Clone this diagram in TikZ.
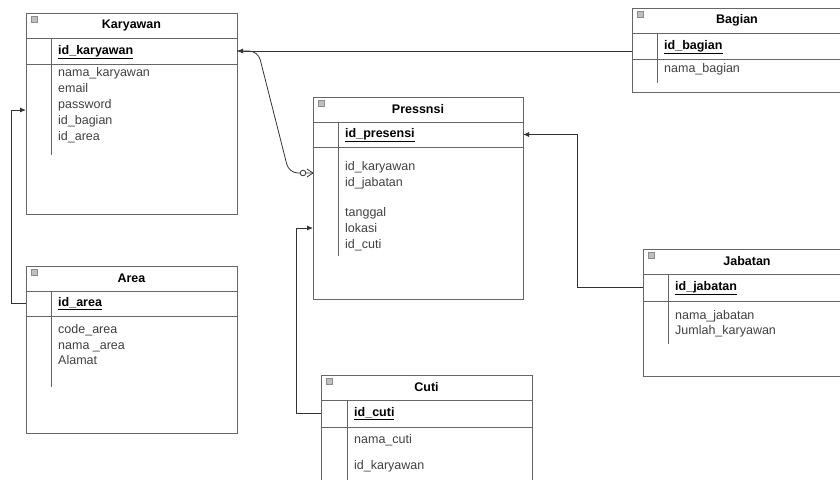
\documentclass[tikz,border=0pt]{standalone}
\usepackage{fontspec}
\setmainfont{Liberation Sans}
\usetikzlibrary{arrows.meta,positioning,calc}

\tikzset{
  tblbox/.style={draw=black!60, line width=0.9pt, inner sep=0pt, outer sep=0pt},
  tblhead/.style={tblbox, anchor=north west, minimum height=25pt, font=\fontsize{12.5}{14}\selectfont\bfseries},
  pkname/.style={anchor=west, inner sep=0pt, text height=9pt, text depth=3pt, font=\fontsize{12.5}{14}\selectfont\bfseries},
  field/.style={anchor=west, inner sep=0pt, text height=9pt, text depth=3pt, text=black!75, font=\fontsize{12.5}{14}\selectfont},
  inner/.style={draw=black!60, line width=0.9pt},
  icon/.style={draw=black!45, fill=black!25, line width=0.5pt},
  conn/.style={draw=black!80, line width=0.8pt},
  >={Latex[length=6pt,width=5pt]}
}

\begin{document}
\begin{tikzpicture}[x=1pt,y=-1pt]
    \useasboundingbox (0,0) rectangle (840,479);
    \clip (0,0) rectangle (840,479);

    % Karyawan table
    \node[tblhead, minimum width=211pt] (kary-title) at (26,13) {Karyawan};
    \node[tblbox, minimum width=211pt, minimum height=26pt, below=0pt of kary-title] (kary-pk) {};
    \node[tblbox, minimum width=211pt, minimum height=150pt, below=0pt of kary-pk] (kary-body) {};
    \draw[inner] ([xshift=25pt]kary-pk.north west) -- ++(0,117);
    \node[pkname, right=32pt of kary-pk.west] (kary-id) {\underline{id\_karyawan}};
    \foreach \f [count=\i] in {nama\_karyawan, email, password, id\_bagian, id\_area}
        \node[field] (kary-f\i) at (58,57+16*\i) {\f};

    % Area table
    \node[tblhead, minimum width=211pt] (area-title) at (26,266) {Area};
    \node[tblbox, minimum width=211pt, minimum height=25pt, below=0pt of area-title] (area-pk) {};
    \node[tblbox, minimum width=211pt, minimum height=117pt, below=0pt of area-pk] (area-body) {};
    \draw[inner] ([xshift=25pt]area-pk.north west) -- ++(0,96);
    \node[pkname, right=32pt of area-pk.west] (area-id) {\underline{id\_area}};
    \foreach \f [count=\i] in {code\_area, nama \_area, Alamat}
        \node[field] (area-f\i) at (58,315+15.5*\i) {\f};

    % Pressnsi table
    \node[tblhead, minimum width=210pt] (pres-title) at (313,97) {Pressnsi};
    \node[tblbox, minimum width=210pt, minimum height=25pt, below=0pt of pres-title] (pres-pk) {};
    \node[tblbox, minimum width=210pt, minimum height=152pt, below=0pt of pres-pk] (pres-body) {};
    \draw[inner] ([xshift=25pt]pres-pk.north west) -- ++(0,134);
    \node[pkname, right=32pt of pres-pk.west] (pres-id) {\underline{id\_presensi}};
    \foreach \f/\y [count=\i] in {id\_karyawan/167, id\_jabatan/183, tanggal/213, lokasi/229, id\_cuti/245}
        \node[field] (pres-f\i) at (345,\y) {\f};

    % Bagian table
    \node[tblhead, minimum width=218pt] (bag-title) at (632,8) {\hspace*{-8pt}Bagian};
    \node[tblbox, minimum width=218pt, minimum height=26pt, below=0pt of bag-title] (bag-pk) {};
    \node[tblbox, minimum width=218pt, minimum height=33pt, below=0pt of bag-pk] (bag-body) {};
    \draw[inner] ([xshift=25pt]bag-pk.north west) -- ++(0,50);
    \node[pkname, right=32pt of bag-pk.west] (bag-id) {\underline{id\_bagian}};
    \node[field] (bag-f1) at (664,69) {nama\_bagian};

    % Jabatan table
    \node[tblhead, minimum width=218pt] (jab-title) at (643,249) {\hspace*{-10pt}Jabatan};
    \node[tblbox, minimum width=218pt, minimum height=27pt, below=0pt of jab-title] (jab-pk) {};
    \node[tblbox, minimum width=218pt, minimum height=75pt, below=0pt of jab-pk] (jab-body) {};
    \draw[inner] ([xshift=25pt]jab-pk.north west) -- ++(0,70);
    \node[pkname, right=32pt of jab-pk.west] (jab-id) {\underline{id\_jabatan}};
    \foreach \f [count=\i] in {nama\_jabatan, Jumlah\_karyawan}
        \node[field] (jab-f\i) at (675,301+15*\i) {\f};

    % Cuti table
    \node[tblhead, minimum width=211pt] (cuti-title) at (321,375) {Cuti};
    \node[tblbox, minimum width=211pt, minimum height=27pt, below=0pt of cuti-title] (cuti-pk) {};
    \node[tblbox, minimum width=211pt, minimum height=80pt, below=0pt of cuti-pk] (cuti-body) {};
    \draw[inner] ([xshift=26pt]cuti-pk.north west) -- ++(0,90);
    \node[pkname, right=33pt of cuti-pk.west] (cuti-id) {\underline{id\_cuti}};
    \foreach \f/\y [count=\i] in {nama\_cuti/440, id\_karyawan/466}
        \node[field] (cuti-f\i) at (354,\y) {\f};

    % collapse icons
    \foreach \t in {kary,area,pres,bag,jab,cuti}
        \draw[icon] ([shift={(5,3)}]\t-title.north west) rectangle ++(6,6);

    % Relations
    \coordinate (kary-in) at (kary-body.west |- 0,110);
    \coordinate (pres-kfk) at (pres-body.west |- 0,173);
    \coordinate (pres-cfk) at (pres-body.west |- 0,228);

    \draw[conn,->] (bag-pk.west |- kary-pk.east) -- (kary-pk.east);
    \draw[conn,->] (area-pk.west) -- ++(-15,0) |- (kary-in);
    \draw[conn,->] (jab-pk.west) -- ++(-66,0) |- (pres-pk.east);
    \draw[conn,->] (cuti-pk.west) -- ++(-25,0) |- (pres-cfk);

    % Karyawan to Pressnsi, zero or many
    \draw[conn, rounded corners=9pt] (kary-pk.east) -- ++(21,0) -- ([xshift=-24pt]pres-kfk) -- (pres-kfk);
    \draw[conn] (pres-kfk) -- ++(-6,-4) (pres-kfk) -- ++(-6,4);
    \draw[conn, fill=white] ([xshift=-10pt]pres-kfk) circle (2.8pt);
\end{tikzpicture}
\end{document}
